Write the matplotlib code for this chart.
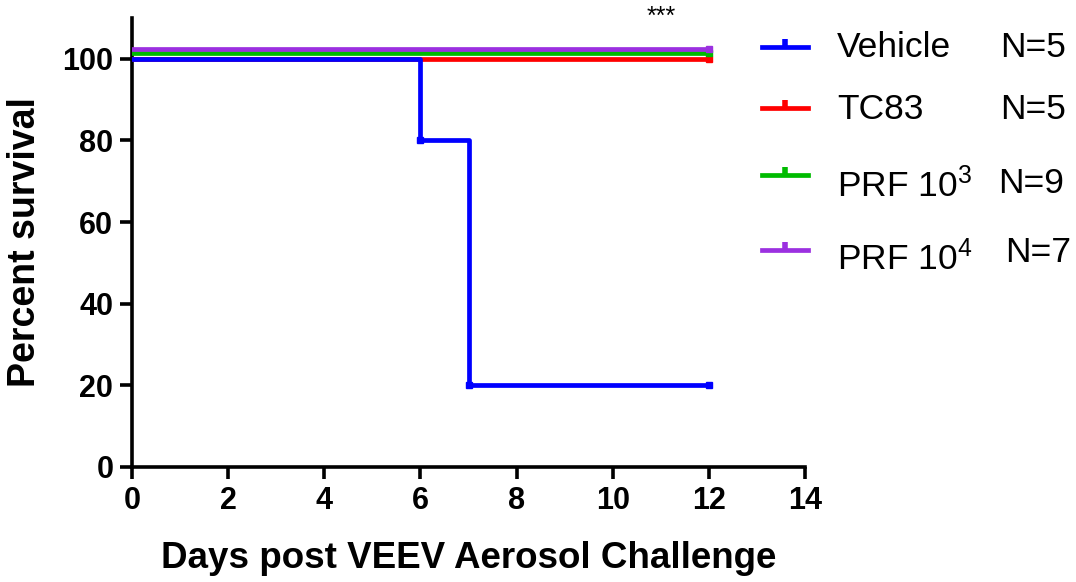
import matplotlib
matplotlib.use("Agg")
from matplotlib import pyplot as plt
from matplotlib import transforms
from matplotlib.lines import Line2D

plt.rcParams['font.family'] = ['Liberation Sans', 'DejaVu Sans']
plt.rcParams['mathtext.fontset'] = 'custom'
plt.rcParams['mathtext.rm'] = 'Liberation Sans'
plt.rcParams['mathtext.it'] = 'Liberation Sans'

# Kaplan-Meier step data
days_vehicle = [0, 6, 7, 12]
surv_vehicle = [100, 80, 20, 20]
marks_vehicle_x = [6, 7, 12]
marks_vehicle_y = [80, 20, 20]

days_other = [0, 12]
surv_tc83 = [100, 100]
surv_prf3 = [100, 100]
surv_prf4 = [100, 100]

labels = ['Vehicle', 'TC83', 'PRF 10$^{3}$', 'PRF 10$^{4}$']
n_labels = ['N=5', 'N=5', 'N=9', 'N=7']
colors = ['#0000ff', '#ff0000', '#00bb00', '#9b30e0']

W, H = 1076, 582
fig = plt.figure(figsize=(W / 100, H / 100), dpi=100)
ax = fig.add_axes([0.1227, 0.1976, 0.6255, 0.7714])

lw = 3.4
# blue
ax.step(days_vehicle, surv_vehicle, where='post', color=colors[0], lw=lw, zorder=5)
ax.plot(marks_vehicle_x, marks_vehicle_y, 's', color=colors[0], ms=5, zorder=6)

# overlapping 100% lines are nudged upward like Prism does
offsets = [0, 4.3, 7.2]
for surv, col, off in zip([surv_tc83, surv_prf3, surv_prf4], colors[1:], offsets):
    tr = transforms.offset_copy(ax.transData, fig=fig, x=0, y=off, units='points')
    ax.step(days_other, surv, where='post', color=col, lw=lw, transform=tr, zorder=4)
    ax.plot([days_other[-1]], [surv[-1]], 's', color=col, ms=5, transform=tr, zorder=4)

ax.set_xlim(0, 14)
ax.set_ylim(0, 110)
ax.set_xticks(range(0, 15, 2))
ax.set_yticks(range(0, 101, 20))
for s in ['top', 'right']:
    ax.spines[s].set_visible(False)
for s in ['left', 'bottom']:
    ax.spines[s].set_linewidth(2.6)
ax.tick_params(width=2.6, length=8.5, labelsize=22, pad=5)
for lab in ax.get_yticklabels():
    lab.set_fontweight('bold')
for lab in ax.get_xticklabels():
    lab.set_fontweight('bold')
    lab.set_fontfamily(['Liberation Sans Narrow', 'Liberation Sans'])

ax.set_xlabel('Days post VEEV Aerosol Challenge', fontsize=26.5, fontweight='bold', labelpad=18)
ax.set_ylabel('Percent survival', fontsize=27, fontweight='bold', labelpad=14)

ax.text(11.0, 110.3, '***', fontsize=18, ha='center', va='center', clip_on=False)

# legend drawn by hand (pixel positions from the reference)
handle_y = [47, 108, 175, 250]
text_y = [44, 106, 182, 255]
n_y = [44, 106, 180, 249]
n_x = [1000, 1000, 998, 1005]
for i in range(4):
    yy = 1 - handle_y[i] / H
    fig.add_artist(Line2D([762 / W, 808 / W], [yy, yy], color=colors[i], lw=3.4,
                          transform=fig.transFigure))
    fig.add_artist(Line2D([785 / W], [yy], color=colors[i], marker=2, ms=6, mew=4,
                          transform=fig.transFigure))
    fig.text(837 / W, 1 - text_y[i] / H, labels[i], fontsize=25.5, va='center_baseline',
             ha='left')
    fig.text(n_x[i] / W, 1 - n_y[i] / H, n_labels[i], fontsize=25.5, va='center_baseline',
             ha='left')

fig.savefig('out.png', dpi=100)
